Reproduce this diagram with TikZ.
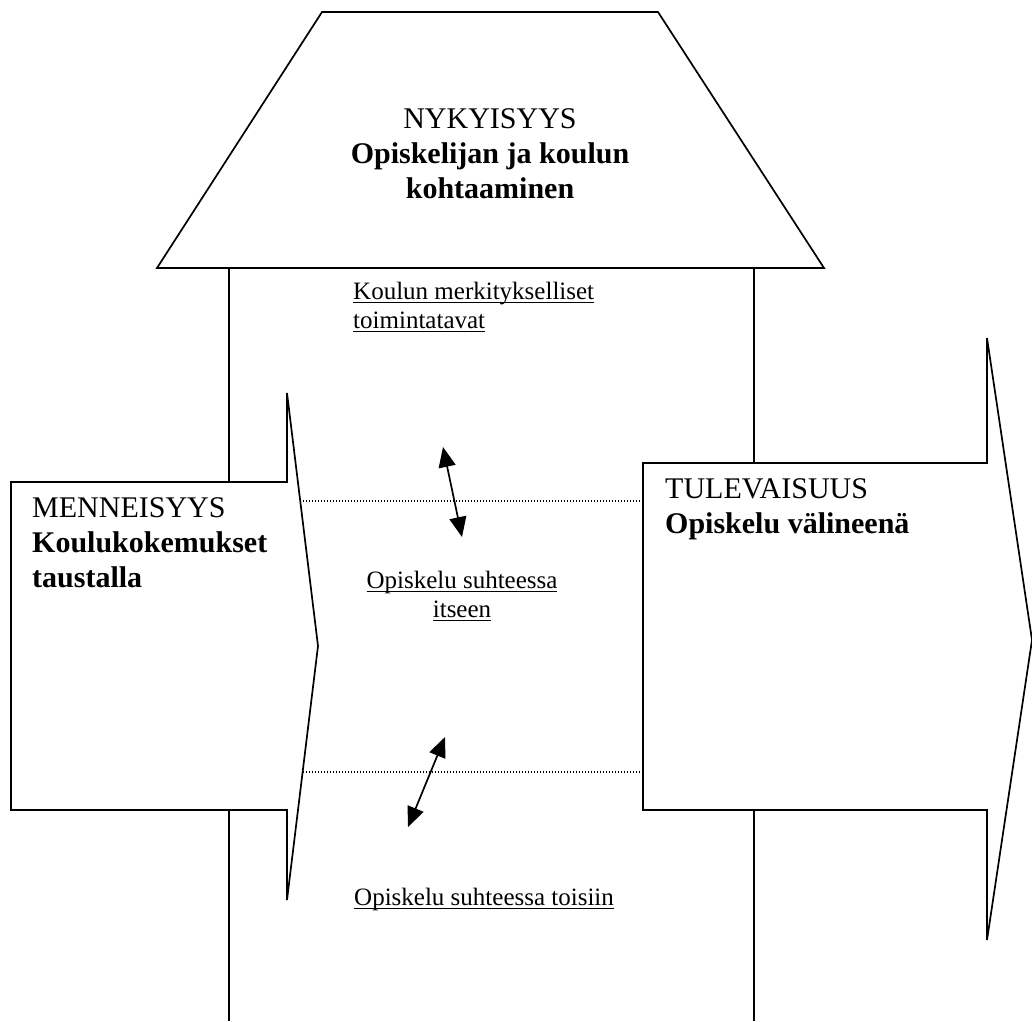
\documentclass[tikz,border=0pt]{standalone}
\usepackage{fontspec}
\setmainfont{Liberation Serif}
\newcommand{\ulin}[1]{\setbox0\hbox{#1}\rlap{\rule[-4pt]{\wd0}{1.2pt}}\box0}
\usetikzlibrary{arrows.meta}

\begin{document}
\begin{tikzpicture}[x=1pt,y=-1pt,>={Triangle[length=20pt,width=17pt]},
  shapeline/.style={line width=1.7pt,fill=white,line join=miter},
  rail/.style={line width=1.7pt},
  link/.style={dash pattern=on 1pt off 2pt,line width=1.2pt},
  twoway/.style={<->,line width=1.7pt},
  bigtext/.style={font=\fontsize{30}{35}\selectfont,inner sep=0pt},
  smalltext/.style={font=\fontsize{25}{29}\selectfont,inner sep=0pt}]
  \useasboundingbox (0,0) rectangle (1032,1021);
  % the two walls of the house
  \draw[rail] (229,268) -- (229,1021);
  \draw[rail] (754,268) -- (754,1021);
  % roof
  \draw[shapeline] (322,12) -- (658,12) -- (824,268) -- (157,268) -- cycle;
  % past and future
  \draw[shapeline] (11,482) -- (287,482) -- (287,393) -- (318,646) -- (287,900) -- (287,810) -- (11,810) -- cycle;
  \draw[shapeline] (643,463) -- (987,463) -- (987,338) -- (1032,640) -- (987,940) -- (987,810) -- (643,810) -- cycle;
  % dotted links between the arrows
  \coordinate (linkAl) at (300,501);
  \coordinate (linkAr) at (643,501);
  \coordinate (linkBl) at (303,772);
  \coordinate (linkBr) at (643,772);
  \draw[link] (linkAl) -- (linkAr);
  \draw[link] (linkBl) -- (linkBr);
  % two-way arrows
  \coordinate (upA) at (443,447);
  \coordinate (upB) at (462,537);
  \coordinate (lowA) at (445,737);
  \coordinate (lowB) at (408,827);
  \draw[twoway] (upA) -- (upB);
  \draw[twoway] (lowA) -- (lowB);
  % texts (base = last line)
  \node[bigtext,align=center,anchor=base] (nyky) at (490,198)
    {NYKYISYYS\\\textbf{Opiskelijan ja koulun}\\\textbf{kohtaaminen}};
  \node[bigtext,align=left,anchor=base west] (menn) at (32,587)
    {MENNEISYYS\\\textbf{Koulukokemukset}\\\textbf{taustalla}};
  \node[bigtext,align=left,anchor=base west] (tule) at (665,533)
    {TULEVAISUUS\\\textbf{Opiskelu välineenä}};
  \node[smalltext,align=left,anchor=base west] (toiminta) at (353,328)
    {\ulin{Koulun merkitykselliset}\\\ulin{toimintatavat}};
  \node[smalltext,align=center,anchor=base] (itse) at (462,617)
    {\ulin{Opiskelu suhteessa}\\\ulin{itseen}};
  \node[smalltext,anchor=base west] (toiset) at (354,905)
    {\ulin{Opiskelu suhteessa toisiin}};
\end{tikzpicture}
\end{document}
